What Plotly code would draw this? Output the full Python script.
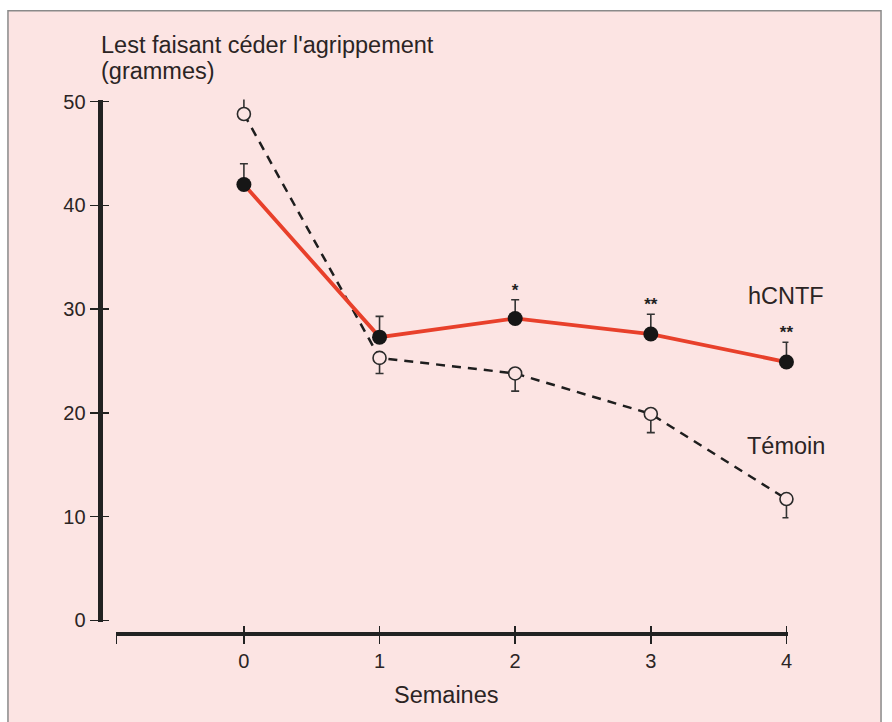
import plotly.graph_objects as go

# ---- data ----
weeks = [0, 1, 2, 3, 4]
week_labels = ["0", "1", "2", "3", "4"]
hcntf = [42.0, 27.3, 29.1, 27.6, 24.9]
hcntf_err = [2.0, 2.0, 1.8, 1.9, 1.9]
hcntf_signif = ["", "", "*", "**", "**"]
temoin = [48.8, 25.3, 23.8, 19.9, 11.7]
temoin_err_plus = [1.9, 0, 0, 0, 0]
temoin_err_minus = [0, 1.5, 1.7, 1.8, 1.8]
y_ticks = [0, 10, 20, 30, 40, 50]

W, H = 892, 722
FONT = "Liberation Sans, Arial, Helvetica, sans-serif"
TXT = "#2b2424"
AX = "#222222"
BG = "#fce4e3"


def vy(ref_px):
    """vertical layout position (figure px) for a target picture row"""
    return (ref_px - 7.3) / 0.977


# pixel geometry of the axes
x_left_px, x_right_px = 117, 792
x0_px, x_unit = 245, 136.25
y50_px, y0_px = vy(100), vy(620)
y_unit = (y0_px - y50_px) / 50
y_top_px, y_bot_px = vy(98), vy(622)
xaxis_line_px = vy(634)
yaxis_line_px = 100

x_range = [-(x0_px - x_left_px) / x_unit, (x_right_px - x0_px) / x_unit]
y_range = [-(y_bot_px - y0_px) / y_unit, (y0_px - y_top_px) / y_unit]
x_dom = [x_left_px / W, x_right_px / W]
y_dom = [(H - y_bot_px) / H, (H - y_top_px) / H]

fig = go.Figure()

# Témoin (dashed, open circles)
fig.add_trace(go.Scatter(
    x=weeks, y=temoin, mode="lines+markers", name="Témoin",
    line=dict(color="#1e1e1e", width=2.5, dash="9px,7px"),
    marker=dict(symbol="circle", size=13, color=BG, line=dict(color="#2a2a2a", width=1.6)),
    error_y=dict(type="data", symmetric=False, array=temoin_err_plus,
                 arrayminus=temoin_err_minus, color="#333333", thickness=1.6, width=4),
    cliponaxis=False, showlegend=False, hoverinfo="skip"))

# hCNTF (red line, filled circles)
fig.add_trace(go.Scatter(
    x=weeks, y=hcntf, mode="lines+markers", name="hCNTF",
    line=dict(color="#e8402b", width=3.8),
    marker=dict(symbol="circle", size=15, color="#161616", line=dict(width=0)),
    error_y=dict(type="data", symmetric=False, array=hcntf_err,
                 arrayminus=[0] * len(weeks), color="#333333", thickness=1.6, width=4),
    cliponaxis=False, showlegend=False, hoverinfo="skip"))

# significance stars
fig.add_trace(go.Scatter(
    x=weeks, y=[v + e for v, e in zip(hcntf, hcntf_err)], mode="text",
    text=["<b>%s</b>" % s for s in hcntf_signif], textposition="top center",
    textfont=dict(family=FONT, size=17, color="#222222"),
    cliponaxis=False, showlegend=False, hoverinfo="skip"))

# invisible trace so the overlay axes (crossing tick halves) are drawn
fig.add_trace(go.Scatter(x=weeks[:1], y=y_ticks[:1], xaxis="x2", yaxis="y2",
                         mode="markers", marker=dict(opacity=0, size=1),
                         showlegend=False, hoverinfo="skip"))

tick_font = dict(family=FONT, size=20, color=TXT)
fig.update_layout(
    width=W, height=H, autosize=False,
    margin=dict(l=0, r=0, t=0, b=0),
    paper_bgcolor="white", plot_bgcolor="rgba(0,0,0,0)",
    hovermode=False,
    xaxis=dict(domain=x_dom, range=x_range, anchor="free",
               position=(H - xaxis_line_px) / H,
               showgrid=False, zeroline=False, showline=True, linecolor=AX, linewidth=4,
               tickmode="array", tickvals=[x_range[0]] + weeks, ticktext=[""] + week_labels,
               ticks="outside", ticklen=8, tickwidth=1.6, tickcolor=AX,
               tickfont=tick_font, ticklabelstandoff=0),
    xaxis2=dict(domain=x_dom, range=x_range, overlaying="x", anchor="free",
                position=(H - xaxis_line_px) / H,
                showgrid=False, zeroline=False, showline=False, showticklabels=False,
                tickmode="array", tickvals=[x_range[0]] + weeks,
                ticks="inside", ticklen=8, tickwidth=1.6, tickcolor=AX),
    yaxis=dict(domain=y_dom, range=y_range, anchor="free",
               position=yaxis_line_px / W,
               showgrid=False, zeroline=False, showline=True, linecolor=AX, linewidth=5,
               tickmode="array", tickvals=y_ticks, ticktext=[str(v) for v in y_ticks],
               ticks="outside", ticklen=8, tickwidth=1.6, tickcolor=AX,
               tickfont=tick_font),
    yaxis2=dict(domain=y_dom, range=y_range, overlaying="y", anchor="free",
                position=yaxis_line_px / W,
                showgrid=False, zeroline=False, showline=False, showticklabels=False,
                tickmode="array", tickvals=y_ticks,
                ticks="inside", ticklen=8, tickwidth=1.6, tickcolor=AX),
    shapes=[dict(type="rect", xref="paper", yref="paper",
                 x0=8 / W, x1=885 / W, y0=-0.02, y1=1 - vy(9) / H,
                 fillcolor=BG, line=dict(color="#8a8a8a", width=1.5), layer="below")],
)

label_font = dict(family=FONT, size=23.5, color=TXT)
annotations = [
    dict(text="Lest faisant céder l'agrippement", x=99 / W, y=1 - vy(43) / H,
         xref="paper", yref="paper", xanchor="left", yanchor="middle",
         showarrow=False, font=label_font),
    dict(text="(grammes)", x=99 / W, y=1 - vy(69) / H,
         xref="paper", yref="paper", xanchor="left", yanchor="middle",
         showarrow=False, font=label_font),
    dict(text="Semaines", x=449 / W, y=1 - vy(695) / H,
         xref="paper", yref="paper", xanchor="center", yanchor="middle",
         showarrow=False, font=label_font),
    dict(text="hCNTF", x=4, y=(y0_px - vy(295)) / y_unit, xref="x", yref="y",
         xanchor="center", yanchor="middle", showarrow=False, font=label_font),
    dict(text="Témoin", x=4, y=(y0_px - vy(445)) / y_unit, xref="x", yref="y",
         xanchor="center", yanchor="middle", showarrow=False, font=label_font),
]
fig.update_layout(annotations=annotations)

fig.write_html("out.html", config={"displayModeBar": False, "staticPlot": True},
               post_script="document.body.style.margin='0';document.body.style.overflow='hidden';")
